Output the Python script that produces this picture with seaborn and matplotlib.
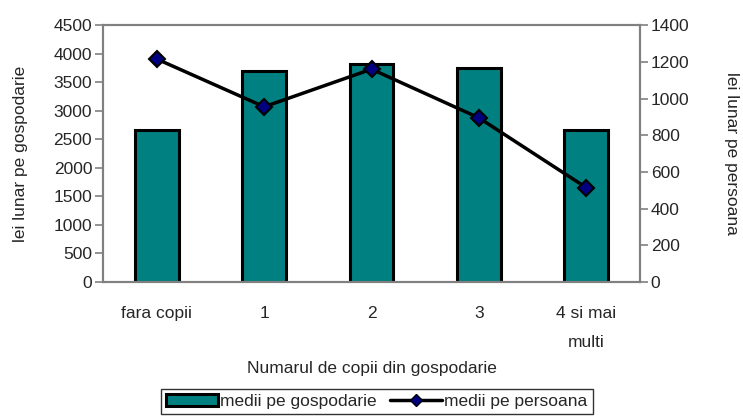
import numpy as np
import pandas as pd
import seaborn as sns
import matplotlib.pyplot as plt
from matplotlib.patches import Patch
from matplotlib.lines import Line2D

# data
categories = ["fara copii", "1", "2", "3", "4 si mai\nmulti"]
per_household = [2670, 3690, 3820, 3750, 2660]
per_person = [1215, 955, 1160, 895, 515]

df = pd.DataFrame({"cat": categories, "gosp": per_household, "pers": per_person})

sns.set_style("white")
plt.rcParams['font.family'] = ['Liberation Sans', 'DejaVu Sans']
fs = 12.5
plt.rcParams['font.size'] = fs

fig, ax = plt.subplots(figsize=(7.43, 4.19), dpi=100)
fig.subplots_adjust(left=0.139, right=0.861, top=0.940, bottom=0.327)

teal = "#008080"
navy = "#000080"
grey = "#808080"

sns.barplot(data=df, x="cat", y="gosp", ax=ax, color=teal, width=0.41,
            edgecolor="black", linewidth=2.2, saturation=1)
ax.set_ylim(0, 4500)
ax.set_yticks(np.arange(0, 4501, 500))
ax.set_xlim(-0.5, len(categories) - 0.5)
ax.set_ylabel("lei lunar pe gospodarie", labelpad=18, fontsize=fs)
ax.set_xlabel("Numarul de copii din gospodarie", labelpad=8, fontsize=fs)

ax2 = ax.twinx()
ax2.plot(np.arange(len(categories)), df["pers"], color="black", linewidth=2.5,
         marker="D", markersize=8, markerfacecolor=navy, markeredgecolor="black",
         markeredgewidth=1.5)
ax2.set_ylim(0, 1400)
ax2.set_yticks(np.arange(0, 1401, 200))
ax2.set_ylabel("lei lunar pe persoana", rotation=-90, labelpad=36, fontsize=fs)

# ticks: x ticks sit between categories
ax.set_xticks(np.arange(len(categories)))
ax.set_xticklabels(categories, linespacing=2.2)
ax.set_xticks(np.arange(-0.5, len(categories)), minor=True)
ax.tick_params(axis="x", which="major", length=0, pad=17, labelsize=fs)
ax.tick_params(axis="x", which="minor", length=6, direction="out", color=grey, width=1.2)
ax.tick_params(axis="y", length=6, direction="out", color=grey, width=1.2, pad=2,
               left=True, labelsize=fs)
ax2.tick_params(axis="y", length=6, direction="out", color=grey, width=1.2, pad=2,
                right=True, labelsize=fs)

for a in (ax, ax2):
    for s in a.spines.values():
        s.set_color(grey)
        s.set_linewidth(1.5)

handles = [
    Patch(facecolor=teal, edgecolor="black", linewidth=2.2),
    Line2D([], [], color="black", linewidth=2.5, marker="D", markersize=6,
           markerfacecolor=navy, markeredgecolor="black"),
]
leg = fig.legend(handles, ["medii pe gospodarie", "medii pe persoana"],
                 loc="center", bbox_to_anchor=(0.507, 0.042), ncol=2,
                 frameon=True, fancybox=False, edgecolor="black",
                 handlelength=3.0, handletextpad=0.1, columnspacing=0.8,
                 borderpad=0.3, fontsize=fs)
leg.get_frame().set_linewidth(1.0)

fig.savefig("out.png", dpi=100)
